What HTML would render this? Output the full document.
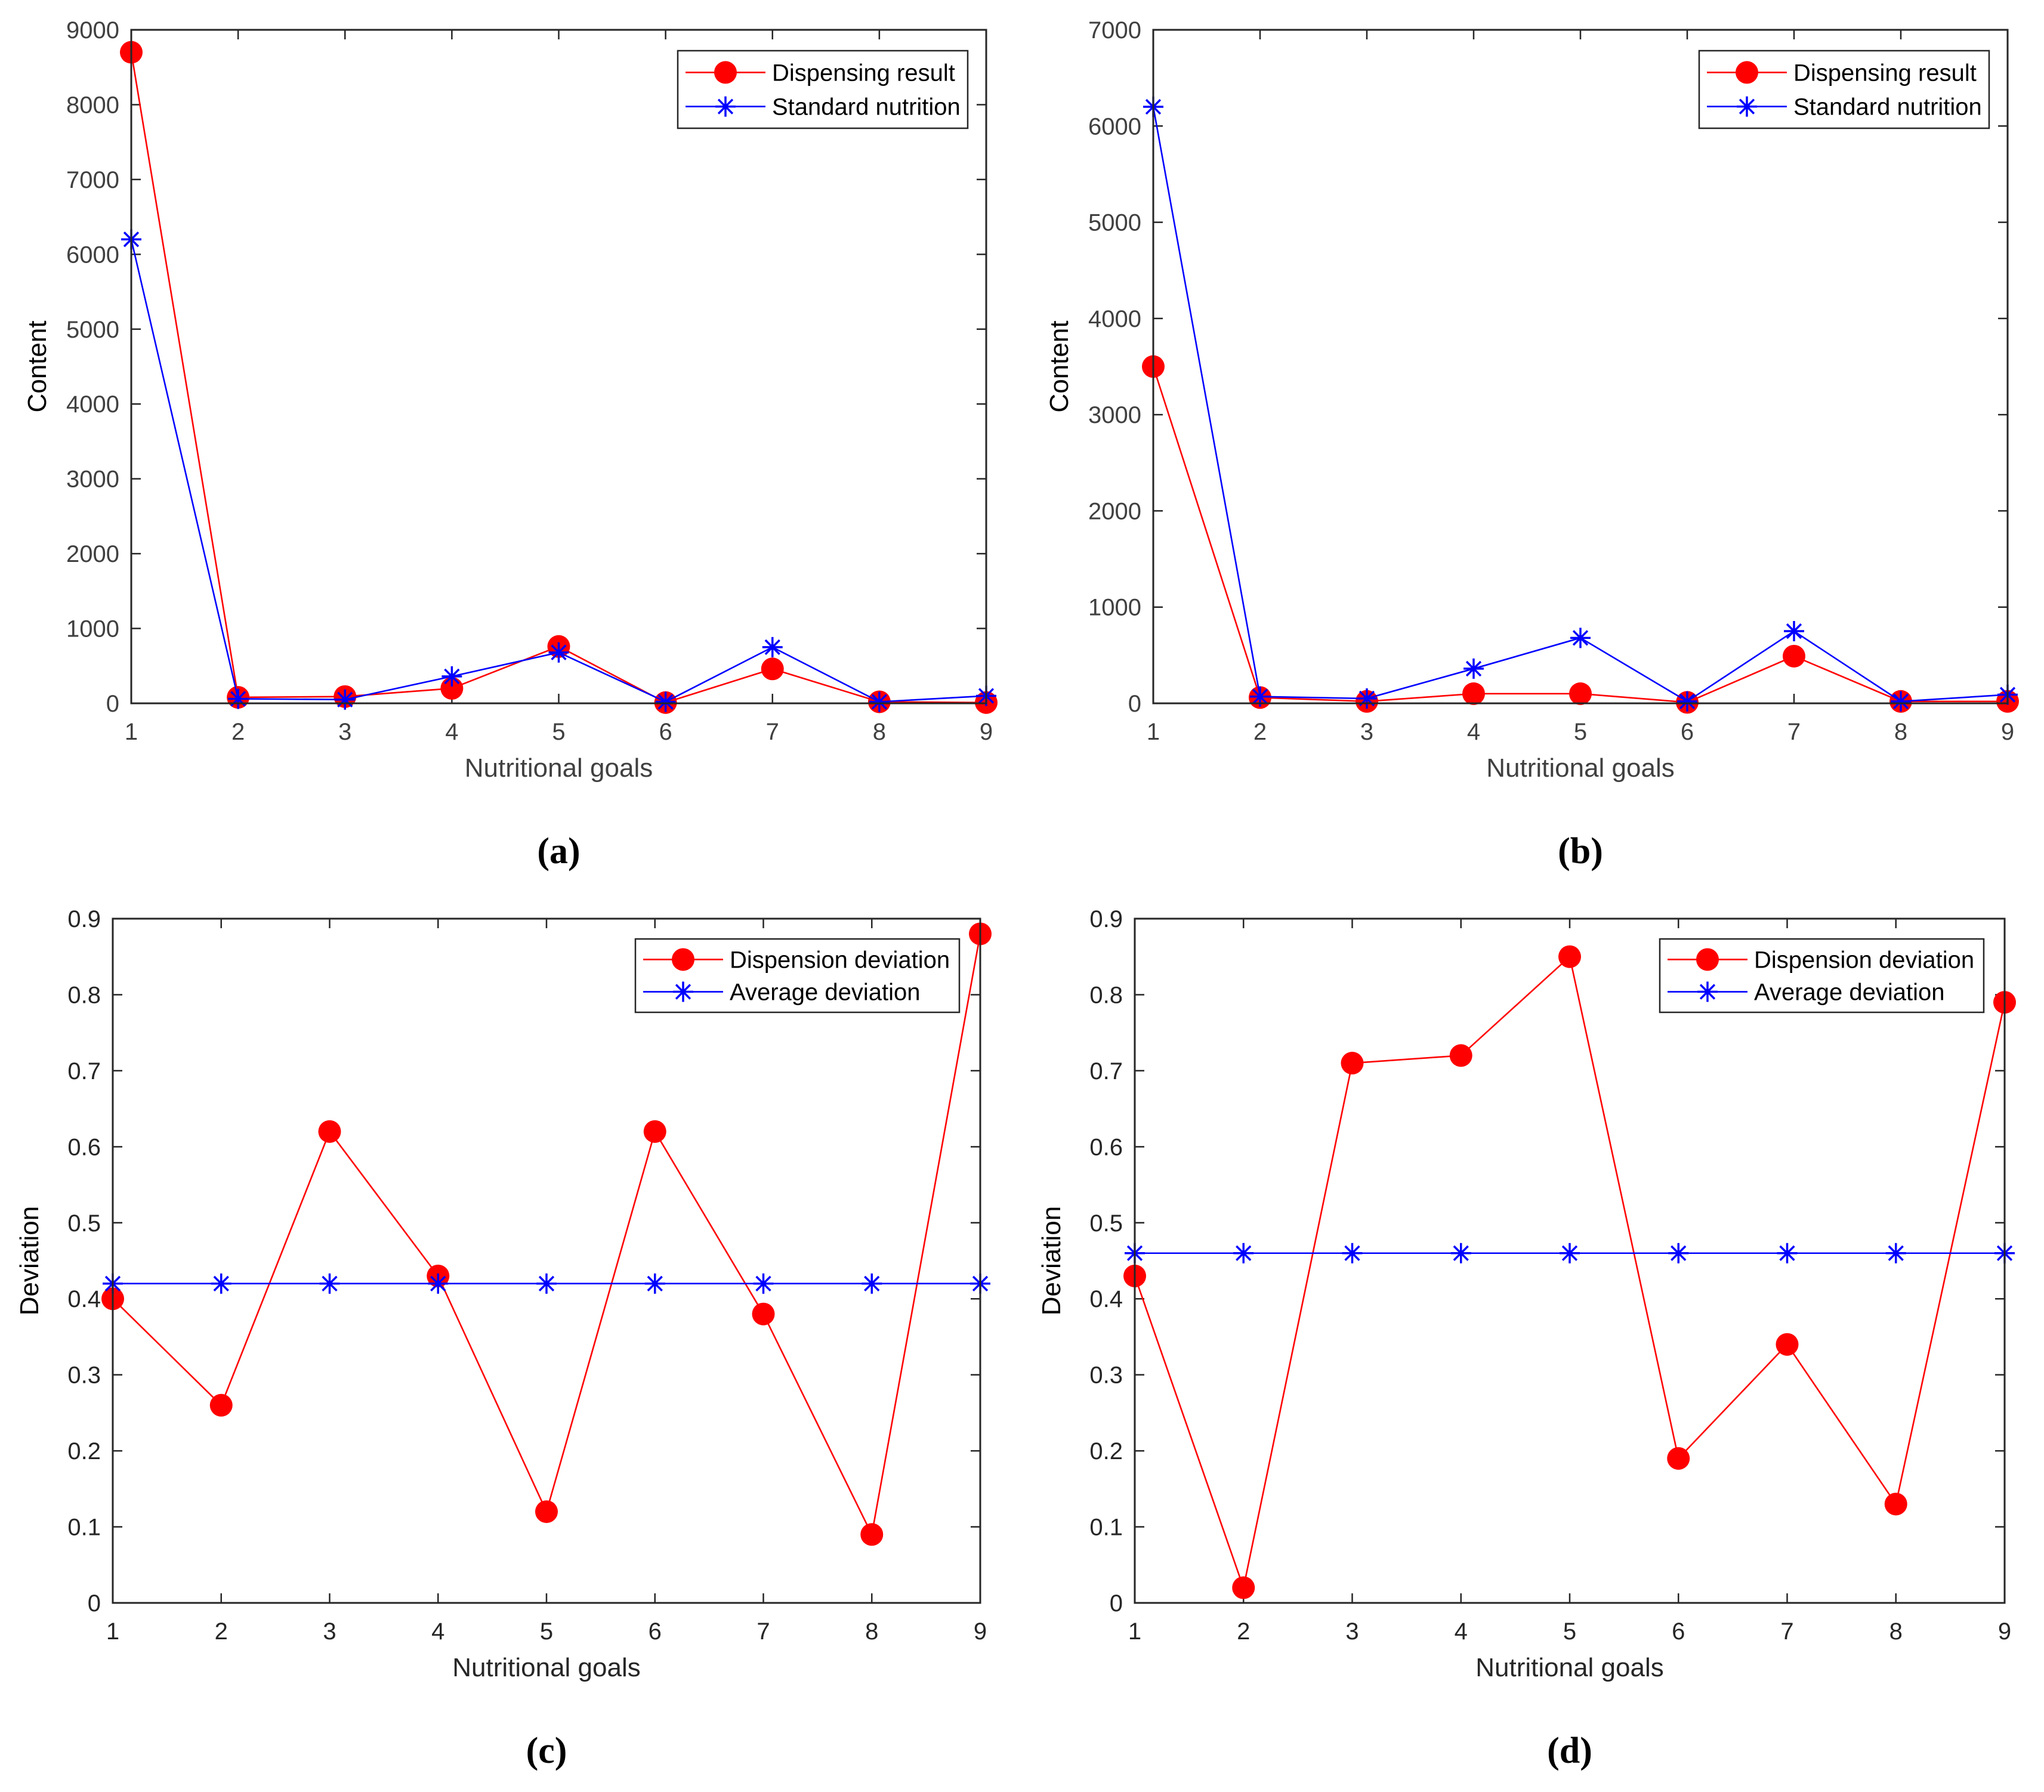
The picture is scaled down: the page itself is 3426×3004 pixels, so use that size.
<!DOCTYPE html>
<html><head><meta charset="utf-8">
<style>
html,body{margin:0;padding:0;background:#fff;}
svg{display:block;}
</style></head>
<body>
<svg id="fig" width="3426" height="3004" viewBox="0 0 3426 3004" xmlns="http://www.w3.org/2000/svg"></svg>
<script>
const xCats = [1,2,3,4,5,6,7,8,9];
const aDispensing = [8700, 80, 90, 200, 760, 10, 460, 20, 10];
const aStandard = [6200, 60, 50, 360, 680, 20, 750, 20, 100];
const bDispensing = [3500, 60, 20, 100, 100, 10, 490, 20, 20];
const bStandard = [6200, 70, 50, 360, 680, 20, 750, 20, 90];
const cDeviation = [0.40, 0.26, 0.62, 0.43, 0.12, 0.62, 0.38, 0.09, 0.88];
const cAverage = [0.42, 0.42, 0.42, 0.42, 0.42, 0.42, 0.42, 0.42, 0.42];
const dDeviation = [0.43, 0.02, 0.71, 0.72, 0.85, 0.19, 0.34, 0.13, 0.79];
const dAverage = [0.46, 0.46, 0.46, 0.46, 0.46, 0.46, 0.46, 0.46, 0.46];
const contentTicksA = [0,1000,2000,3000,4000,5000,6000,7000,8000,9000];
const contentTicksB = [0,1000,2000,3000,4000,5000,6000,7000];
const devTicks = [0,0.1,0.2,0.3,0.4,0.5,0.6,0.7,0.8,0.9];

const NS = "http://www.w3.org/2000/svg";
const svg = document.getElementById('fig');
function el(tag, attrs, parent){
  const e = document.createElementNS(NS, tag);
  for (const k in attrs) e.setAttribute(k, attrs[k]);
  (parent||svg).appendChild(e);
  return e;
}

const panels = [
  {id:'a', L:220, R:1653, T:50, B:1179, ymax:9000, yticks:contentTicksA, ylab:'Content', tickCol:'#404040', yOff:143,
   s1:aDispensing, s2:aStandard, n1:'Dispensing result', n2:'Standard nutrition', legR:31, legW:486, legH:130, legT:35, fmt:v=>String(v)},
  {id:'b', L:1933, R:3365, T:50, B:1179, ymax:7000, yticks:contentTicksB, ylab:'Content', tickCol:'#404040', yOff:143,
   s1:bDispensing, s2:bStandard, n1:'Dispensing result', n2:'Standard nutrition', legR:31, legW:486, legH:130, legT:35, fmt:v=>String(v)},
  {id:'c', L:189, R:1643, T:1540, B:2687, ymax:0.9, yticks:devTicks, ylab:'Deviation', tickCol:'#262626', yOff:125,
   s1:cDeviation, s2:cAverage, n1:'Dispension deviation', n2:'Average deviation', legR:35, legW:543, legH:123, legT:34, fmt:v=>v===0?'0':v.toFixed(1)},
  {id:'d', L:1902, R:3360, T:1540, B:2687, ymax:0.9, yticks:devTicks, ylab:'Deviation', tickCol:'#262626', yOff:125,
   s1:dDeviation, s2:dAverage, n1:'Dispension deviation', n2:'Average deviation', legR:35, legW:543, legH:123, legT:34, fmt:v=>v===0?'0':v.toFixed(1)}
];

function star(g, x, y, r, name){
  const p = el('path', {d:`M${x-r},${y}H${x+r}M${x},${y-r}V${y+r}M${x-r*0.7},${y-r*0.7}L${x+r*0.7},${y+r*0.7}M${x-r*0.7},${y+r*0.7}L${x+r*0.7},${y-r*0.7}`,
    stroke:'#0000ff','stroke-width':3.5,fill:'none'}, g);
  
  
}

panels.forEach(p=>{
  const g = el('g', {});
  
  
  const xs = v => p.L + (v-1)/(8)*(p.R-p.L);
  const ys = v => p.B - v/p.ymax*(p.B-p.T);
  p.yticks.forEach(t=>{
    const y = ys(t);
    el('path',{d:`M${p.L},${y}h16M${p.R},${y}h-16`,stroke:'#262626','stroke-width':2.5}, g);
    const tx = el('text',{x:p.L-20,y:y+14,'text-anchor':'end','font-family':'Liberation Sans, sans-serif','font-size':40,fill:p.tickCol}, g);
    tx.textContent = p.fmt(t);
    
    
  });
  xCats.forEach(c=>{
    const x = xs(c);
    el('path',{d:`M${x},${p.B}v-16M${x},${p.T}v16`,stroke:'#262626','stroke-width':2.5}, g);
    const tx = el('text',{x:x,y:p.B+61,'text-anchor':'middle','font-family':'Liberation Sans, sans-serif','font-size':40,fill:p.tickCol}, g);
    tx.textContent = String(c);
    
    
  });
  const pts1 = p.s1.map((v,i)=>`${xs(xCats[i])},${ys(v)}`).join(' ');
  const pts2 = p.s2.map((v,i)=>`${xs(xCats[i])},${ys(v)}`).join(' ');
  const l1 = el('polyline',{points:pts1,fill:'none',stroke:'#ff0000','stroke-width':2.6}, g);
  
  
  p.s1.forEach((v,i)=>{
    const c = el('circle',{cx:xs(xCats[i]),cy:ys(v),r:19,fill:'#ff0000'}, g);
    
    
  });
  const l2 = el('polyline',{points:pts2,fill:'none',stroke:'#0000ff','stroke-width':2.6}, g);
  
  
  p.s2.forEach((v,i)=> star(g, xs(xCats[i]), ys(v), 17, 'blue-star-marker'));
  el('rect',{x:p.L,y:p.T,width:p.R-p.L,height:p.B-p.T,fill:'none',stroke:'#262626','stroke-width':3}, g);
  const xl = el('text',{x:(p.L+p.R)/2,y:p.B+123,'text-anchor':'middle','font-family':'Liberation Sans, sans-serif','font-size':44,fill:p.tickCol}, g);
  xl.textContent = 'Nutritional goals';
  
  
  const yc = (p.T+p.B)/2, yx = p.L-p.yOff;
  const yl = el('text',{x:yx,y:yc,'text-anchor':'middle','font-family':'Liberation Sans, sans-serif','font-size':44,fill:'#000',transform:`rotate(-90 ${yx} ${yc})`}, g);
  yl.textContent = p.ylab;
  
  
  const sl = el('text',{x:(p.L+p.R)/2,y:p.B+268,'text-anchor':'middle','font-family':'Liberation Serif, serif','font-size':62,'font-weight':'bold',fill:'#000'}, g);
  sl.textContent = '('+p.id+')';
  
  
  const lg = el('g',{}, g);
  
  
  const lx = p.R - p.legR - p.legW, ly = p.T + p.legT;
  el('rect',{x:lx,y:ly,width:p.legW,height:p.legH,fill:'#fff',stroke:'#262626','stroke-width':2.5}, lg);
  const r1 = ly + p.legH*0.28, r2 = ly + p.legH*0.72;
  el('line',{x1:lx+13,x2:lx+147,y1:r1,y2:r1,stroke:'#ff0000','stroke-width':2.6}, lg);
  const lc = el('circle',{cx:lx+80,cy:r1,r:19,fill:'#ff0000'}, lg);
  
  
  el('line',{x1:lx+13,x2:lx+147,y1:r2,y2:r2,stroke:'#0000ff','stroke-width':2.6}, lg);
  star(lg, lx+80, r2, 17, 'legend-blue-marker');
  const t1 = el('text',{x:lx+158,y:r1+14,'font-family':'Liberation Sans, sans-serif','font-size':40,fill:'#000'}, lg);
  t1.textContent = p.n1;
  
  
  const t2 = el('text',{x:lx+158,y:r2+14,'font-family':'Liberation Sans, sans-serif','font-size':40,fill:'#000'}, lg);
  t2.textContent = p.n2;
  
  
});
</script>
</body></html>
